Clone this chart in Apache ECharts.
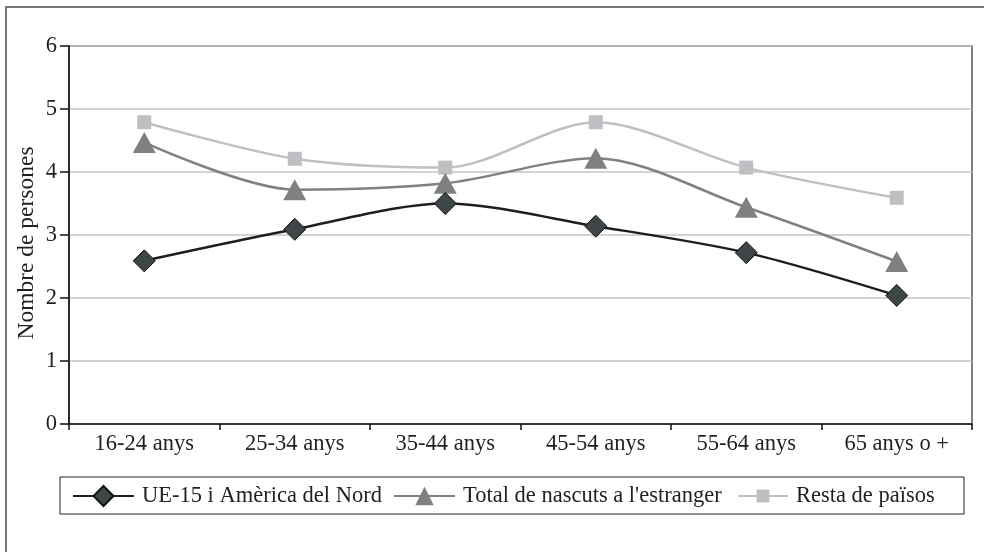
<!DOCTYPE html>
<html>
<head>
<meta charset="utf-8">
<script src="https://cdn.jsdelivr.net/npm/echarts@6/dist/echarts.min.js"></script>
<style>
html,body{margin:0;padding:0;background:#fff;}
#chart{width:984px;height:552px;}
</style>
</head>
<body>
<div id="chart"></div>
<script>
var categories = ['16-24 anys', '25-34 anys', '35-44 anys', '45-54 anys', '55-64 anys', '65 anys o +'];
var ueNordAmerica = [2.59, 3.09, 3.50, 3.14, 2.72, 2.04];
var totalEstranger = [4.47, 3.72, 3.82, 4.22, 3.44, 2.58];
var restaPaisos = [4.79, 4.21, 4.07, 4.79, 4.07, 3.59];
var yTicks = [0, 1, 2, 3, 4, 5, 6];
var seriesNames = ['UE-15 i Amèrica del Nord', "Total de nascuts a l'estranger", 'Resta de països'];
var yAxisTitle = 'Nombre de persones';

var FONT = 'Liberation Serif';
var TXT = '#231f20';
var chart = echarts.init(document.getElementById('chart'), null, {renderer: 'canvas'});

function legendFor(name, left, w, h) {
  return {
    data: [name], left: left, top: 483, height: 26, padding: 0,
    itemWidth: w, itemHeight: h,
    textStyle: {fontFamily: FONT, fontSize: 22.5, color: TXT, padding: [0, 0, 0, 3],
                height: 26, lineHeight: 26, verticalAlign: 'middle'},
    selectedMode: false
  };
}

chart.setOption({
  animation: false,
  backgroundColor: '#fff',
  graphic: [
    {type: 'rect', shape: {x: 6, y: 7, width: 1000, height: 600},
     style: {fill: 'none', stroke: '#4a4a4a', lineWidth: 1.5}, z: -1},
    {type: 'rect', shape: {x: 60, y: 477, width: 904, height: 37},
     style: {fill: 'none', stroke: '#222', lineWidth: 1}, z: -1},
    {type: 'text', x: 27, y: 243, rotation: Math.PI / 2,
     style: {text: yAxisTitle, font: '23.5px "Liberation Serif"', fill: TXT,
             align: 'center', verticalAlign: 'middle'}}
  ],
  legend: [
    legendFor(seriesNames[0], 72, 61, 25),
    legendFor(seriesNames[1], 393, 61, 23),
    legendFor(seriesNames[2], 737, 50, 16)
  ],
  grid: {left: 69, top: 46, width: 903, height: 378, show: true,
         borderColor: '#555', borderWidth: 1.5, containLabel: false},
  xAxis: {
    type: 'category', data: categories, boundaryGap: true,
    axisLine: {lineStyle: {color: '#111', width: 1.5}},
    axisTick: {show: true, length: 6, lineStyle: {color: '#111', width: 1.5}},
    axisLabel: {fontFamily: FONT, fontSize: 22.5, color: TXT, margin: 9},
    splitLine: {show: false}
  },
  yAxis: {
    type: 'value', min: yTicks[0], max: yTicks[yTicks.length - 1], interval: 1,
    axisLine: {show: true, lineStyle: {color: '#111', width: 1.5}},
    axisTick: {show: true, length: 9, lineStyle: {color: '#111', width: 1.5}},
    axisLabel: {fontFamily: FONT, fontSize: 22.5, color: TXT, margin: 12},
    splitLine: {show: true, lineStyle: {color: '#c4c4c6', width: 1.5}}
  },
  series: [
    {name: seriesNames[0], type: 'line', data: ueNordAmerica, smooth: 0.3,
     symbol: 'diamond', symbolSize: 22,
     lineStyle: {color: '#1e1e1e', width: 2.5},
     itemStyle: {color: '#3e4647', borderColor: '#111', borderWidth: 1}, z: 4},
    {name: seriesNames[1], type: 'line', data: totalEstranger, smooth: 0.3,
     symbol: 'triangle', symbolSize: [23, 21],
     lineStyle: {color: '#808080', width: 2.5},
     itemStyle: {color: '#808080', borderWidth: 0}, z: 3},
    {name: seriesNames[2], type: 'line', data: restaPaisos, smooth: 0.3,
     symbol: 'rect', symbolSize: 14,
     lineStyle: {color: '#c0c0c3', width: 2.5},
     itemStyle: {color: '#bfbfc3', borderWidth: 0}, z: 2}
  ]
});
</script>
</body>
</html>
